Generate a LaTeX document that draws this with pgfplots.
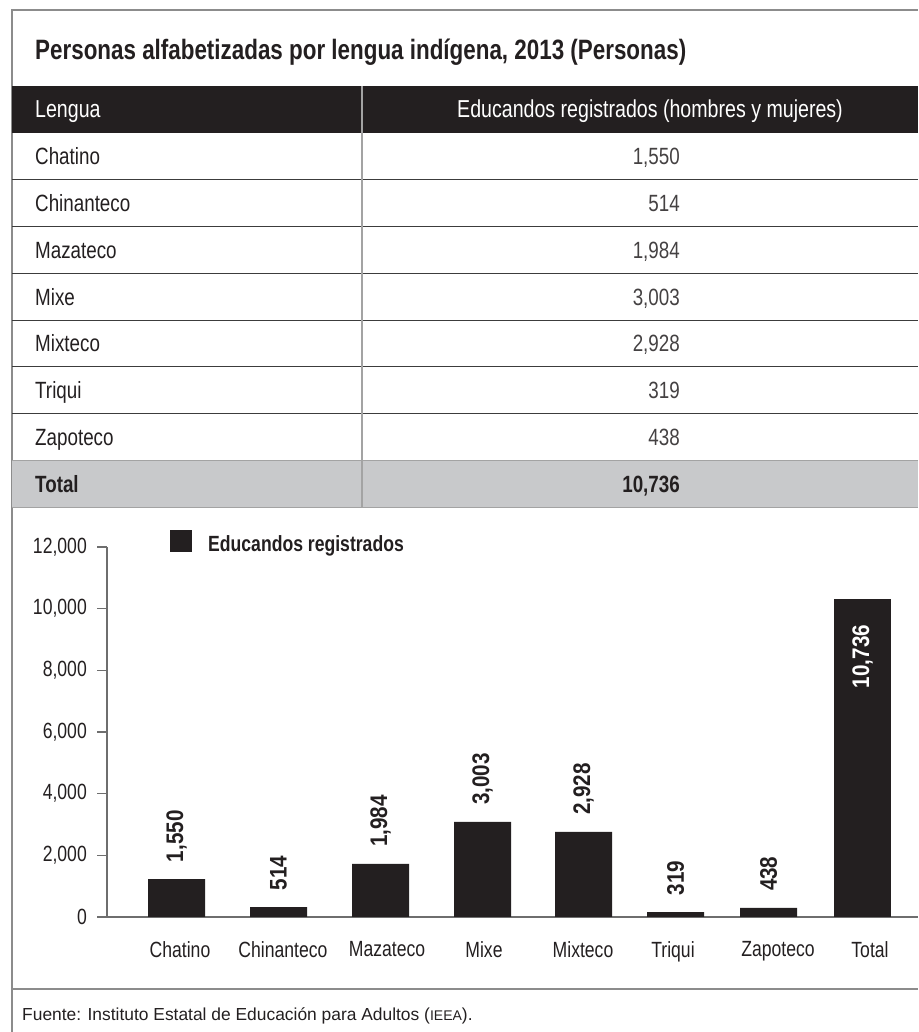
\documentclass[border=0pt]{standalone}
\usepackage{fontspec}
\setmainfont{Liberation Sans}[FakeStretch=0.8]
\newfontfamily\footfont{Liberation Sans}
\newfontfamily\barfont{Liberation Sans}[FakeStretch=0.86]
\usepackage{pgfplots}
\pgfplotsset{compat=1.18}
\usepackage{pgfplotstable}

\definecolor{ink}{HTML}{231F20}
\definecolor{totgray}{HTML}{C8C9CB}
\definecolor{frame}{HTML}{8C8C8C}
\definecolor{rowline}{HTML}{3C3C3C}
\definecolor{axisgray}{HTML}{6E6E6E}

% bar centre (pt from the y axis), bar height as drawn, printed value
\pgfplotstableread{
pos   val   lab
69.5  1232  1,550
171.5 324   514
273.5 1719  1,984
375.5 3081  3,003
476.5 2757  2,928
568.5 162   319
661.5 292   438
}\langs
\pgfplotstableread{
pos   val   lab
755.5 10314 10,736
}\total

\begin{document}
\begin{tikzpicture}[x=1pt,y=1pt]
\useasboundingbox (0,0) rectangle (918,1032);

% outer frame
\draw[frame, line width=2pt] (12,0) -- (12,1022) -- (918,1022);

% title
\node[anchor=base west, inner sep=0pt, text=ink, font=\bfseries\fontsize{28}{32}\selectfont]
  at (35,972) {Personas alfabetizadas por lengua indígena, 2013 (Personas)};

% table
\fill[ink] (12,946) rectangle (918,898.6);
\fill[totgray] (12,571.4) rectangle (918,524.6);
\foreach \yy in {852.2,805.4,758.6,711.8,665,618.2}
  \draw[rowline, line width=1pt] (12,\yy) -- (918,\yy);
\draw[frame!80, line width=1.2pt] (12,571.4) -- (918,571.4);
\draw[frame!80, line width=1.2pt] (12,524.6) -- (918,524.6);
\draw[frame!80, line width=2pt] (362,946) -- (362,524.6);

\begin{scope}[font=\fontsize{23.5}{28}\selectfont]
\node[anchor=base west, inner sep=0pt, text=white, font=\fontsize{24.5}{28}\selectfont] at (35,914.1) {Lengua};
\node[anchor=base, inner sep=0pt, text=white, font=\fontsize{24.5}{28}\selectfont] at (650,914.1) {Educandos registrados (hombres y mujeres)};
\foreach \nm/\vv [count=\i from 0] in {Chatino/{1,550}, Chinanteco/{514}, Mazateco/{1,984}, Mixe/{3,003}, Mixteco/{2,928}, Triqui/{319}, Zapoteco/{438}}{
  \node[anchor=base west, inner sep=0pt, text=ink] at (35,867.2-46.8*\i) {\nm};
  \node[anchor=base east, inner sep=0pt, text=ink!85] at (680,867.2-46.8*\i) {\vv};
}
\node[anchor=base west, inner sep=0pt, text=ink, font=\bfseries\fontsize{23.5}{28}\selectfont] at (35,539.6) {Total};
\node[anchor=base east, inner sep=0pt, text=ink, font=\bfseries\fontsize{23.5}{28}\selectfont] at (680,539.6) {10,736};
\end{scope}

% chart
\begin{axis}[
  at={(107pt,115pt)}, anchor=south west,
  scale only axis, width=811pt, height=370pt,
  xmin=0, xmax=811, ymin=0, ymax=12000,
  axis x line*=bottom, axis y line*=left,
  axis line style={axisgray, line width=1.5pt},
  ytick={0,2000,...,12000},
  scaled y ticks=false,
  /pgf/number format/1000 sep={,},
  /pgf/number format/assume math mode=true,
  tick align=outside,
  major tick length=10pt,
  y tick style={axisgray, line width=1.5pt},
  x tick style={draw=none},
  xtick={73,176,280,377,476,566,671,763},
  xticklabels={Chatino,Chinanteco,Mazateco,Mixe,Mixteco,Triqui,Zapoteco,Total},
  tick label style={font=\fontsize{22}{26}\selectfont, text=ink},
  yticklabel style={inner sep=0pt, xshift=-10pt},
  xticklabel style={inner sep=0pt, yshift=-14pt},
  legend style={at={(0.0777,1.0145)}, anchor=west, draw=none, fill=none,
    inner sep=0pt, column sep=16pt, nodes={inner sep=0pt},
    font=\bfseries\fontsize{22}{26}\selectfont, text=ink},
  legend image code/.code={\fill[ink] (0pt,-8pt) rectangle (22pt,14pt);},
  clip=false,
]
\addplot[ybar, bar width=57pt, bar shift=0pt, fill=ink, draw=none,
  nodes near coords, point meta=explicit symbolic,
  nodes near coords style={rotate=90, anchor=west, inner sep=0pt, outer xsep=17pt,
    text=ink, font=\barfont\bfseries\fontsize{24}{28}\selectfont}]
  table[x=pos, y=val, meta=lab] {\langs};
\addlegendentry{Educandos registrados}
\addplot[ybar, bar width=57pt, bar shift=0pt, fill=ink, draw=none, forget plot,
  nodes near coords, point meta=explicit symbolic,
  nodes near coords style={rotate=90, anchor=east, inner sep=0pt, outer xsep=26pt,
    text=white, font=\barfont\bfseries\fontsize{24}{28}\selectfont}]
  table[x=pos, y=val, meta=lab] {\total};
\end{axis}

% footer
\draw[frame, line width=1.5pt] (12,43) -- (918,43);
\node[anchor=base west, inner sep=0pt, text=ink, font=\footfont\fontsize{17.4}{20}\selectfont]
  at (22,11) {Fuente: Instituto Estatal de Educación para Adultos ({\fontsize{14}{16}\selectfont IEEA}).};
\end{tikzpicture}
\end{document}
